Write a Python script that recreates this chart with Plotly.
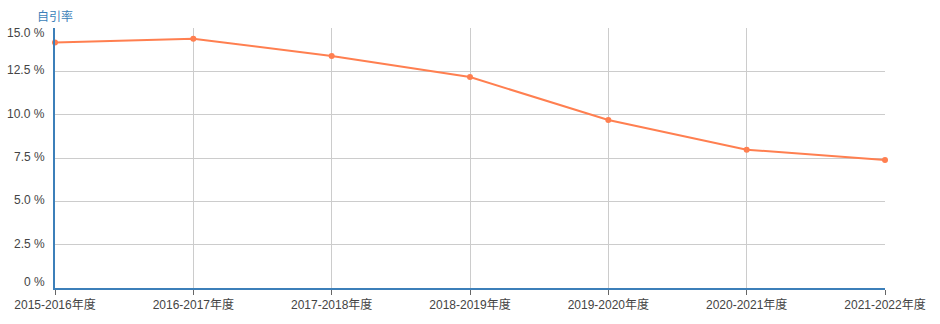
import plotly.graph_objects as go

categories = ["2015-2016年度", "2016-2017年度", "2017-2018年度", "2018-2019年度",
              "2019-2020年度", "2020-2021年度", "2021-2022年度"]
self_citation_rate = [14.17, 14.38, 13.38, 12.17, 9.69, 7.98, 7.38]
y_tick_vals = [0, 2.5, 5, 7.5, 10, 12.5, 15]
y_tick_text = ["0 %", "2.5 %", "5.0 %", "7.5 %", "10.0 %", "12.5 %", "15.0 %"]

FONT = "Liberation Sans, Arial, Noto Sans CJK SC, sans-serif"
TICK_FONT = dict(family=FONT, size=12, color="#444")

fig = go.Figure()
fig.add_trace(go.Scatter(
    x=list(range(len(categories))), y=self_citation_rate,
    mode="lines+markers",
    line=dict(color="#ff7f50", width=2),
    marker=dict(color="#ff7f50", size=6),
    cliponaxis=False,
    showlegend=False, hoverinfo="skip",
))

# y tick labels as text placed at the axis values (ends nudged inward, as in the original)
y_annotations = []
for v, t in zip(y_tick_vals, y_tick_text):
    if v == max(y_tick_vals):
        shift = -5
    elif v == min(y_tick_vals):
        shift = 6
    else:
        shift = 1
    y_annotations.append(dict(
        text=t, xref="paper", yref="y", x=0, y=v, xanchor="right", yanchor="middle",
        xshift=-8, yshift=shift, showarrow=False, font=TICK_FONT,
    ))

fig.update_layout(
    width=940, height=324,
    margin=dict(l=55, r=55, t=28, b=36, autoexpand=False),
    paper_bgcolor="white", plot_bgcolor="white",
    font=dict(family=FONT, size=12, color="#555"),
    xaxis=dict(
        range=[0, len(categories) - 1],
        tickmode="array", tickvals=list(range(len(categories))), ticktext=categories,
        showgrid=True, gridcolor="#cccccc", gridwidth=1,
        showline=True, linecolor="#3c7fb9", linewidth=2,
        ticks="outside", ticklen=5, tickcolor="#666", tickwidth=1,
        zeroline=False, fixedrange=True, automargin=False,
        tickfont=TICK_FONT,
    ),
    yaxis=dict(
        range=[0, 15],
        tickmode="array", tickvals=y_tick_vals, ticktext=y_tick_text,
        showticklabels=False,
        showgrid=True, gridcolor="#cccccc", gridwidth=1,
        showline=True, linecolor="#3c7fb9", linewidth=2,
        ticks="", zeroline=False, fixedrange=True, automargin=False,
    ),
    annotations=y_annotations + [dict(
        text="自引率", xref="paper", yref="paper", x=0, y=1 + 11 / 260,
        xanchor="center", yanchor="middle", showarrow=False,
        font=dict(family=FONT, size=12, color="#3c7fb9"),
    )],
)

fig.write_html("out.html")
